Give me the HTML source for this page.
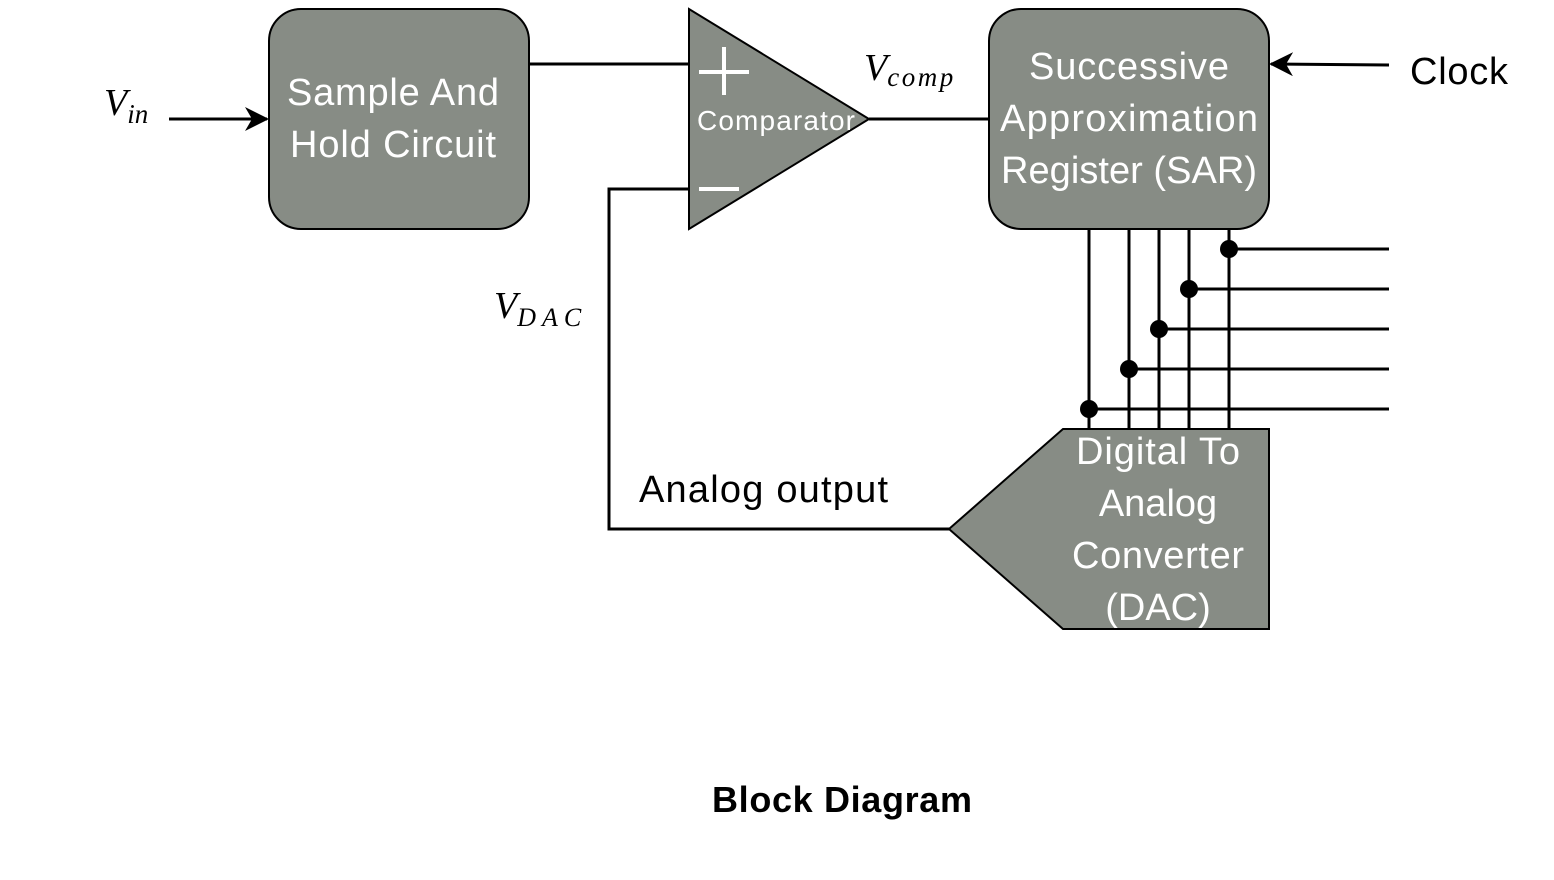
<!DOCTYPE html>
<html><head><meta charset="utf-8"><style>
html,body{margin:0;padding:0;background:#fff;}
svg{display:block;}
.w{fill:#fff;font-family:"Liberation Sans",sans-serif;}
.m{font-family:"Liberation Serif",serif;font-style:italic;fill:#000;}
</style></head><body>
<svg width="1554" height="880" viewBox="0 0 1554 880" xmlns="http://www.w3.org/2000/svg">
<defs>
<marker id="ar2" markerWidth="24" markerHeight="24" refX="22" refY="12" orient="auto" markerUnits="userSpaceOnUse"><path d="M0,0 L24,12 L0,24 L7,12 Z" fill="#000"/></marker></defs>
<g stroke="#000" stroke-width="3" fill="none">
<line x1="169" y1="119" x2="267" y2="119" marker-end="url(#ar2)"/>
<line x1="1389" y1="65" x2="1271" y2="64" marker-end="url(#ar2)"/>
<line x1="529" y1="64" x2="689" y2="64"/>
<line x1="869" y1="119" x2="989" y2="119"/>
<polyline points="949,529 609,529 609,189 689,189"/>
<line x1="1089" y1="229" x2="1089" y2="429"/>
<line x1="1129" y1="229" x2="1129" y2="429"/>
<line x1="1159" y1="229" x2="1159" y2="429"/>
<line x1="1189" y1="229" x2="1189" y2="429"/>
<line x1="1229" y1="229" x2="1229" y2="429"/>
<line x1="1229" y1="249" x2="1389" y2="249"/>
<line x1="1189" y1="289" x2="1389" y2="289"/>
<line x1="1159" y1="329" x2="1389" y2="329"/>
<line x1="1129" y1="369" x2="1389" y2="369"/>
<line x1="1089" y1="409" x2="1389" y2="409"/>
</g>
<g fill="#000"><circle cx="1229" cy="249" r="9"/><circle cx="1189" cy="289" r="9"/><circle cx="1159" cy="329" r="9"/><circle cx="1129" cy="369" r="9"/><circle cx="1089" cy="409" r="9"/></g>
<g fill="#878c85" stroke="#000" stroke-width="2">
<rect x="269" y="9" width="260" height="220" rx="32"/>
<polygon points="689,9 689,229 869,119"/>
<rect x="989" y="9" width="280" height="220" rx="32"/>
<polygon points="1063,429 1269,429 1269,629 1063,629 949,529"/>
</g>
<g stroke="#fff" stroke-width="4"><line x1="699" y1="72" x2="749" y2="72"/><line x1="724" y1="47" x2="724" y2="95"/><line x1="699" y1="189" x2="739" y2="189"/></g>
<g class="w" font-size="38" text-anchor="middle">
<text x="393" y="105" textLength="212">Sample And</text><text x="393" y="157" textLength="206">Hold Circuit</text>
<text x="1129" y="79" textLength="200">Successive</text><text x="1129" y="131" textLength="258">Approximation</text><text x="1129" y="183" textLength="256">Register (SAR)</text>
<text x="1158" y="464" textLength="164">Digital To</text><text x="1158" y="516">Analog</text><text x="1158" y="568" textLength="172">Converter</text><text x="1158" y="620">(DAC)</text>
<text x="776" y="130" font-size="28" textLength="158">Comparator</text>
</g>
<text x="1410" y="84" font-family="Liberation Sans,sans-serif" font-size="38" textLength="98">Clock</text>
<text x="639" y="502" font-family="Liberation Sans,sans-serif" font-size="38" textLength="249">Analog output</text>
<text x="842" y="812" text-anchor="middle" font-family="Liberation Sans,sans-serif" font-size="36" font-weight="bold" textLength="260">Block Diagram</text>
<text class="m" x="104" y="115" font-size="38">V<tspan font-size="27" dy="8">in</tspan></text>
<text class="m" x="864" y="80" font-size="38">V<tspan font-size="27" dy="6" textLength="66">comp</tspan></text>
<text class="m" x="494" y="318" font-size="38">V<tspan font-size="26" dy="8" textLength="64">DAC</tspan></text>
</svg>
</body></html>
